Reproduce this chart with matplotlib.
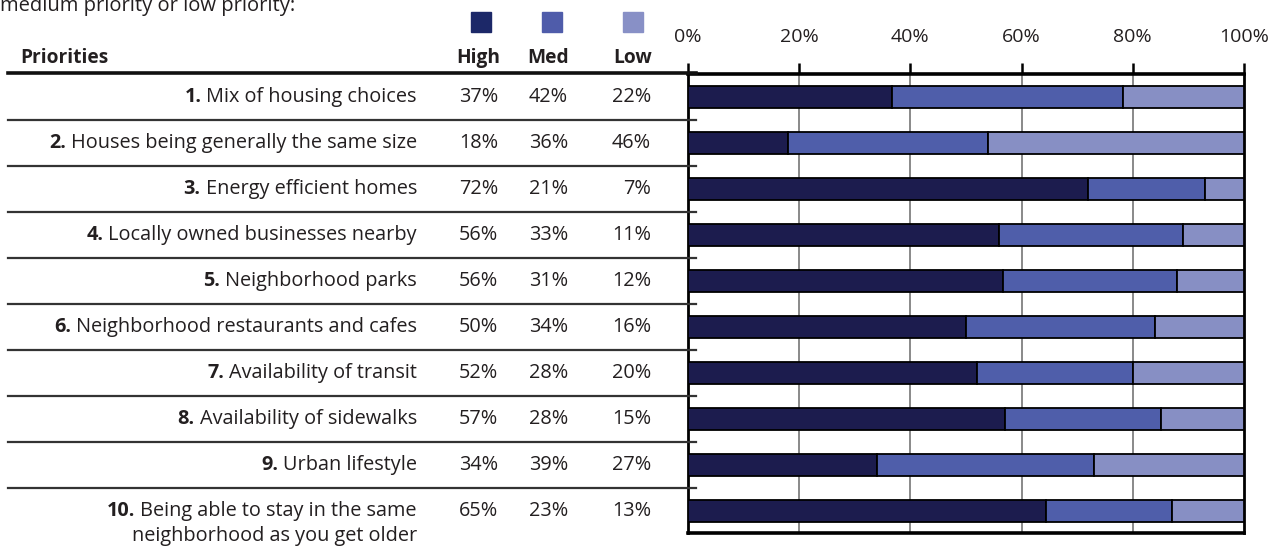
import matplotlib.pyplot as plt
import matplotlib.transforms as mtransforms
from matplotlib.patches import Rectangle

plt.rcParams['font.family'] = ['Open Sans', 'DejaVu Sans']

nums = ['1.', '2.', '3.', '4.', '5.', '6.', '7.', '8.', '9.', '10.']
labels = ['Mix of housing choices',
          'Houses being generally the same size',
          'Energy efficient homes',
          'Locally owned businesses nearby',
          'Neighborhood parks',
          'Neighborhood restaurants and cafes',
          'Availability of transit',
          'Availability of sidewalks',
          'Urban lifestyle',
          'Being able to stay in the same']
label_extra = 'neighborhood as you get older'
high = [37, 18, 72, 56, 56, 50, 52, 57, 34, 65]
med = [42, 36, 21, 33, 31, 34, 28, 28, 39, 23]
low = [22, 46, 7, 11, 12, 16, 20, 15, 27, 13]
series = ['High', 'Med', 'Low']
colors = ['#1c1c4e', '#4f5eaa', '#878fc4']
legend_colors = ['#1c2868', '#4f5caa', '#8890c6']
ticks = [0, 20, 40, 60, 80, 100]

W, H = 1285, 546
fig = plt.figure(figsize=(W / 100, H / 100), dpi=100)
txt = '#231f20'
fs = 14.3

def fx(px):
    return px / W

def fy(py):
    return 1 - py / H

ax = fig.add_axes([fx(688), fy(533), fx(1244) - fx(688), (533 - 74) / H])
n = len(labels)
y = list(range(n))
# bars are scaled so that each row fills 0-100%
totals = [h + m + l for h, m, l in zip(high, med, low)]
left = [0] * n
for vals, c in zip([high, med, low], colors):
    share = [v / t * 100 for v, t in zip(vals, totals)]
    ax.barh(y, share, left=left, height=0.48, color=c, edgecolor='black', linewidth=1.3, zorder=3)
    left = [a + b for a, b in zip(left, share)]

ax.set_xlim(0, 100)
ax.set_ylim(9.47, -0.51)
ax.set_yticks([])
ax.set_xticks(ticks)
ax.set_xticklabels([f'{t}%' for t in ticks], fontsize=14, color=txt)
ax.xaxis.tick_top()
ax.tick_params(axis='x', direction='out', length=8, width=1.8, color='black', pad=12)
for t in ticks[1:-1]:
    ax.axvline(t, color='#808080', lw=1.3, zorder=1)
for s in ['top', 'bottom']:
    ax.spines[s].set_linewidth(2.6)
for s in ['left', 'right']:
    ax.spines[s].set_linewidth(2.0)

# table
blend = mtransforms.blended_transform_factory(fig.transFigure, ax.transData)
fig.add_artist(plt.Line2D([fx(8), fx(696)], [fy(73), fy(73)], color='#111111', lw=2.6))
for i in range(n - 1):
    ax.plot([fx(8), fx(696)], [i + 0.5, i + 0.5], transform=blend, color='#333333',
            lw=1.6, clip_on=False, zorder=5)

fig.text(fx(20), fy(63), 'Priorities', fontsize=13.8, fontweight='bold', color=txt, va='baseline')
hdr_x = [478, 548, 633]
sq_x = [481, 552, 633]
for name, hx, sx, c in zip(series, hdr_x, sq_x, legend_colors):
    fig.text(fx(hx), fy(63), name, fontsize=13.8, fontweight='bold', color=txt, ha='center', va='baseline')
    fig.add_artist(Rectangle((fx(sx - 10), fy(32)), fx(20), 20 / H, color=c, transform=fig.transFigure))

fig.text(fx(0), fy(11), 'medium priority or low priority:', fontsize=14.5, color=txt, va='baseline')

renderer = fig.canvas.get_renderer()
for i in range(n):
    t = ax.text(fx(417), i, labels[i], transform=blend, fontsize=fs, color=txt,
                ha='right', va='center')
    bb = t.get_window_extent(renderer)
    ax.text(fx(bb.x0 - 5), i, nums[i], transform=blend, fontsize=fs, fontweight='bold',
            color=txt, ha='right', va='center')
    ax.text(fx(498), i, f'{high[i]}%', transform=blend, fontsize=fs, color=txt, ha='right', va='center')
    ax.text(fx(568), i, f'{med[i]}%', transform=blend, fontsize=fs, color=txt, ha='right', va='center')
    ax.text(fx(651), i, f'{low[i]}%', transform=blend, fontsize=fs, color=txt, ha='right', va='center')
ax.text(fx(417), n - 1 + 0.54, label_extra, transform=blend, fontsize=fs, color=txt,
        ha='right', va='center')

fig.savefig('out.png', dpi=100)
